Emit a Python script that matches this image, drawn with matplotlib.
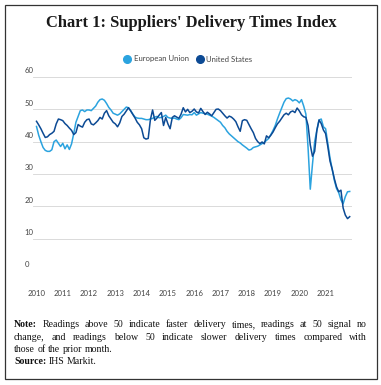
import numpy as np
import pandas as pd
import matplotlib
matplotlib.use("Agg")
import matplotlib.pyplot as plt
from matplotlib.lines import Line2D
from matplotlib.patches import Rectangle
import matplotlib.transforms as mtransforms

# monthly index readings, Jan 2010 - Dec 2021
eu = [
    44.7, 42.0, 40.0, 38.2, 37.3, 37.0, 37.0, 37.5, 40.0, 40.5, 39.5, 38.5,   # 2010
    39.5, 37.8, 39.0, 37.6, 39.3, 42.5, 46.0, 47.8, 49.6, 49.8, 49.3, 49.8,   # 2011
    49.8, 49.6, 50.3, 51.0, 52.2, 53.0, 53.2, 52.8, 51.8, 50.6, 49.8, 48.8,   # 2012
    48.5, 48.2, 48.6, 49.3, 50.0, 50.7, 50.5, 49.6, 48.5, 47.6, 47.3, 47.2,   # 2013
    47.2, 47.0, 46.8, 46.8, 47.0, 47.2, 47.6, 47.8, 47.4, 47.5, 47.8, 48.2,   # 2014
    47.5, 47.3, 47.2, 47.3, 47.0, 46.8, 47.4, 48.4, 48.3, 48.2, 48.4, 48.3,   # 2015
    49.0, 48.2, 48.6, 49.0, 48.8, 48.7, 48.5, 48.2, 47.9, 47.5, 47.0, 46.5,   # 2016
    46.0, 45.0, 44.3, 43.2, 42.4, 41.8, 41.2, 40.6, 40.0, 39.6, 39.0, 38.5,   # 2017
    38.0, 37.4, 37.6, 38.2, 38.4, 38.6, 39.0, 39.4, 39.8, 40.4, 41.0, 42.2,   # 2018
    43.5, 45.0, 47.0, 48.8, 50.5, 52.2, 53.3, 53.5, 53.2, 52.6, 53.0, 52.7,   # 2019
    52.0, 53.0, 51.0, 48.5, 38.0, 25.3, 33.0, 40.0, 43.5, 46.7, 47.0, 44.6,   # 2020
    44.0, 39.5, 35.0, 31.5, 28.0, 25.5, 24.2, 22.0, 20.8, 23.0, 24.5, 24.6,   # 2021
]
us = [
    46.3, 45.2, 44.0, 42.6, 41.3, 41.5, 42.2, 42.6, 43.2, 45.5, 47.0, 46.8,
    46.5, 45.6, 45.0, 44.2, 43.5, 42.2, 42.8, 45.3, 44.8, 44.5, 46.0, 46.8,
    47.0, 45.5, 45.2, 45.8, 46.5, 47.5, 47.0, 48.8, 49.6, 48.0, 47.0, 46.0,
    45.5, 44.6, 45.8, 47.8, 48.5, 49.5, 50.5, 49.5, 48.4, 47.3, 46.0, 45.2,
    44.0, 41.2, 40.8, 41.0, 46.8, 49.8, 46.6, 47.3, 48.2, 49.0, 45.0, 47.5,
    45.5, 44.0, 47.5, 48.0, 47.6, 47.2, 48.5, 50.5, 49.2, 50.0, 49.0, 49.4,
    50.1, 49.2, 48.9, 50.3, 49.3, 48.4, 49.1, 48.6, 48.0, 49.0, 50.0, 50.1,
    49.6, 48.8, 48.0, 47.3, 47.9, 47.6, 47.0, 46.2, 44.6, 43.2, 46.5, 46.8,
    46.6, 45.3, 44.0, 42.8, 41.0, 40.0, 39.4, 39.9, 39.3, 41.8, 41.2, 42.0,
    43.0, 44.3, 45.5, 46.3, 47.3, 48.3, 48.8, 48.3, 49.2, 49.5, 49.0, 50.4,
    49.5, 48.3, 47.7, 47.5, 45.0, 39.0, 35.5, 37.0, 43.5, 46.7, 45.6, 43.6,
    42.5, 38.5, 34.0, 31.5, 28.5, 26.0, 24.5, 25.0, 19.5, 17.3, 16.2, 16.8,
]
years = list(range(2010, 2022))
y_ticks = [0, 10, 20, 30, 40, 50, 60]

eu_color = "#2ba3df"
us_color = "#0c4a94"
W, H = 381, 385
serif = "Liberation Serif"

fig = plt.figure(figsize=(W / 100, H / 100), dpi=100)
fig.patch.set_facecolor("white")
renderer = fig.canvas.get_renderer()

# outer frame
fig.patches.append(Rectangle((5 / W, 1 - 379 / H), 372 / W, 374 / H, transform=fig.transFigure,
                             fill=False, edgecolor="#333333", lw=0.9))

fig.text(191 / W, 1 - 23 / H, "Chart 1: Suppliers' Delivery Times Index", ha="center",
         va="center", fontsize=11.9, fontweight="bold", family=serif, color="#1a1a1a")

ax = fig.add_axes([33 / W, 1 - 271 / H, (352 - 33) / W, (271 - 77) / H])
x = np.arange(len(eu))
ax.plot(x, eu, color=eu_color, lw=1.1, zorder=3)
ax.plot(x, us, color=us_color, lw=1.1, zorder=4)

ax.set_xlim(-1.6, 144.05)
ax.set_ylim(0, 60)
ax.set_yticks(y_ticks)
ax.set_xticks([12 * i for i in range(len(years))])
ax.set_xticklabels([str(y) for y in years])
ax.grid(axis="y", color="#d4d4d4", lw=0.6)
ax.set_axisbelow(True)
for s in ax.spines.values():
    s.set_visible(False)
ax.tick_params(length=0, labelsize=5.6, labelcolor="#444444")
ax.tick_params(axis="x", pad=14)
ax.tick_params(axis="y", pad=6)
off = mtransforms.ScaledTranslation(0, 2 / 72, fig.dpi_scale_trans)
for lab in ax.get_yticklabels():
    lab.set_horizontalalignment("left")
    lab.set_verticalalignment("bottom")
    lab.set_transform(lab.get_transform() + off)
for lab in ax.get_xticklabels() + ax.get_yticklabels():
    lab.set_family("Lato")

handles = [Line2D([], [], ls="none", marker="o", ms=5.5, color=eu_color),
           Line2D([], [], ls="none", marker="o", ms=5.5, color=us_color)]
fig.legend(handles, ["European Union", "United States"], loc="center",
           bbox_to_anchor=(188 / W, 1 - 59 / H), ncol=2, frameon=False,
           prop={"family": "Lato", "size": 5.6}, labelcolor="#444444",
           handletextpad=0.3, columnspacing=1.0, handlelength=1.0)

# note block, justified by hand
note_size = 7.1
x0, x1 = 14, 367
lines = [
    ("Note: Readings above 50 indicate faster delivery times, readings at 50 signal no", True),
    ("change, and readings below 50 indicate slower delivery times compared with", True),
    ("those of the prior month.", False),
    ("Source: IHS Markit.", False),
]


def put_line(ybase, parts, justify):
    texts = []
    for word, bold in parts:
        t = fig.text(0, 1 - ybase / H, word, fontsize=note_size, family=serif,
                     fontweight="bold" if bold else "normal", va="baseline", color="#111111")
        texts.append(t)
    widths = [t.get_window_extent(renderer).width for t in texts]
    if justify and len(texts) > 1:
        gap = (x1 - x0 - sum(widths)) / (len(texts) - 1)
    else:
        gap = note_size * 1.389 * 0.26
    xx = x0
    for t, w in zip(texts, widths):
        t.set_x(xx / W)
        xx += w + gap


bases = [327, 339.5, 352, 364.5]
for (txt, just), yb in zip(lines, bases):
    parts = [(w, w in ("Note:", "Source:")) for w in txt.split(" ")]
    put_line(yb, parts, just)

fig.savefig("out.png", dpi=100)
